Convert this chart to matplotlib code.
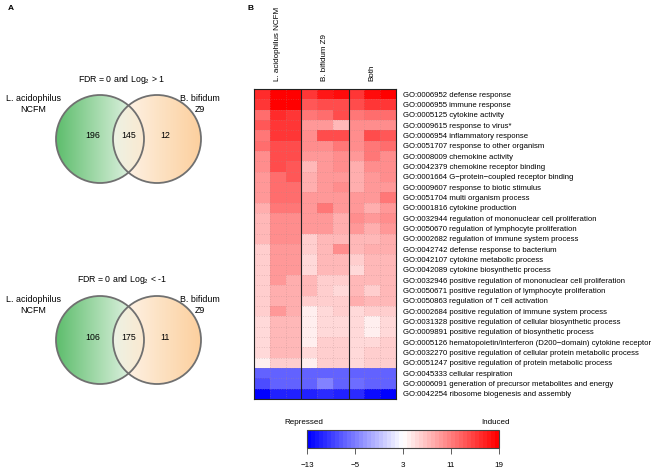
import numpy as np
import matplotlib.pyplot as plt
from matplotlib.colors import LinearSegmentedColormap, Normalize
from matplotlib.patches import Circle

plt.rcParams['font.family'] = ['Liberation Sans', 'DejaVu Sans']
plt.rcParams['mathtext.fontset'] = 'custom'
plt.rcParams['mathtext.rm'] = 'Liberation Sans'

# ---- data ----
venn_titles = ['FDR = 0 and Log$_\\mathregular{2}$ > 1', 'FDR = 0 and Log$_\\mathregular{2}$ < -1']
venn_sets = ['L. acidophilus\nNCFM', 'B. bifidum\nZ9']
up_counts = [196, 145, 12]
down_counts = [106, 175, 11]

groups = ['L. acidophilus NCFM', 'B. bifidum Z9', 'Both']
go_terms = [
    'GO:0006952 defense response',
    'GO:0006955 immune response',
    'GO:0005125 cytokine activity',
    'GO:0009615 response to virus*',
    'GO:0006954 inflammatory response',
    'GO:0051707 response to other organism',
    'GO:0008009 chemokine activity',
    'GO:0042379 chemokine receptor binding',
    'GO:0001664 G\u2212protein\u2212coupled receptor binding',
    'GO:0009607 response to biotic stimulus',
    'GO:0051704 multi organism process',
    'GO:0001816 cytokine production',
    'GO:0032944 regulation of mononuclear cell proliferation',
    'GO:0050670 regulation of lymphocyte proliferation',
    'GO:0002682 regulation of immune system process',
    'GO:0042742 defense response to bacterium',
    'GO:0042107 cytokine metabolic process',
    'GO:0042089 cytokine biosynthetic process',
    'GO:0032946 positive regulation of mononuclear cell proliferation',
    'GO:0050671 positive regulation of lymphocyte proliferation',
    'GO:0050863 regulation of T cell activation',
    'GO:0002684 positive regulation of immune system process',
    'GO:0031328 positive regulation of cellular biosynthetic process',
    'GO:0009891 positive regulation of biosynthetic process',
    'GO:0005126 hematopoietin/interferon (D200\u2212domain) cytokine receptor',
    'GO:0032270 positive regulation of cellular protein metabolic process',
    'GO:0051247 positive regulation of protein metabolic process',
    'GO:0045333 cellular respiration',
    'GO:0006091 generation of precursor metabolites and energy',
    'GO:0042254 ribosome biogenesis and assembly',
]

ncfm = [[16, 19, 19], [15, 19, 19], [12, 16, 15], [13, 15, 15], [11, 15, 15],
        [12, 14, 14], [10, 14, 14], [10, 14, 13], [9, 12, 13], [9, 12, 12],
        [9, 12, 12], [8, 11, 11], [7, 10, 10], [7, 10, 10], [7, 10, 10],
        [6, 9, 9], [6, 9, 9], [6, 9, 9], [6, 9, 8], [6, 8, 8],
        [6, 8, 8], [6, 9, 8], [5, 7, 7], [5, 7, 7], [5, 7, 7],
        [5, 7, 7], [4, 6, 6], [-7, -7, -7], [-8, -7, -7], [-13, -11, -11]]
z9 = [[15, 17, 18], [13, 14, 14], [11, 12, 14], [9, 9, 7], [10, 14, 14],
      [10, 10, 11], [9, 9, 10], [7, 9, 10], [8, 9, 9], [8, 9, 10],
      [9, 9, 9], [9, 11, 9], [9, 9, 8], [9, 9, 8], [6, 7, 7],
      [6, 7, 10], [5, 7, 7], [5, 7, 7], [7, 6, 6], [7, 6, 5],
      [6, 6, 6], [4, 5, 6], [4, 5, 5], [4, 5, 5], [4, 6, 6],
      [5, 6, 6], [4, 6, 6], [-7, -7, -7], [-7, -5, -7], [-11, -10, -11]]
both = [[15, 18, 19], [14, 15, 15], [11, 12, 12], [10, 10, 10], [10, 14, 13],
        [10, 11, 12], [9, 11, 10], [8, 10, 10], [8, 9, 10], [8, 9, 9],
        [9, 9, 11], [9, 8, 9], [10, 9, 10], [9, 8, 9], [7, 7, 8],
        [7, 8, 8], [6, 7, 7], [5, 7, 7], [7, 7, 7], [7, 6, 7],
        [8, 7, 7], [5, 6, 6], [5, 4, 5], [5, 4, 5], [5, 5, 6],
        [5, 6, 6], [5, 6, 6], [-7, -7, -7], [-6, -7, -7], [-10, -12, -13]]

cbar_ticks = [-13, -5, 3, 11, 19]

# ---- figure ----
W, H = 661, 471
fig = plt.figure(figsize=(W / 100, H / 100), dpi=100)

fig.text(8 / W, 1 - 9 / H, 'A', fontsize=6, fontweight='bold', va='center')
fig.text(247 / W, 1 - 9 / H, 'B', fontsize=6, fontweight='bold', va='center')

# Venn panel in pixel coordinates
av = fig.add_axes([0, 0, 240 / W, 1])
av.set_xlim(0, 240)
av.set_ylim(H, 0)
av.axis('off')

green = LinearSegmentedColormap.from_list('g', ['#5dbd6c', '#a9dcb0', '#f4faf4'])
orange = LinearSegmentedColormap.from_list('o', ['#fff8f1', '#fdd9b0', '#fbbd78'])
grad = np.linspace(0, 1, 256).reshape(1, -1)

def venn(cy, title, counts):
    r = 44
    cx1, cx2 = 100, 157
    for cx, cmap, alpha in [(cx1, green, 1.0), (cx2, orange, 0.72)]:
        c = Circle((cx, cy), r, transform=av.transData, facecolor='none')
        av.add_patch(c)
        im = av.imshow(grad, cmap=cmap, extent=[cx - r, cx + r, cy + r, cy - r],
                       aspect='auto', alpha=alpha, zorder=1)
        im.set_clip_path(c)
    for cx in (cx1, cx2):
        av.add_patch(Circle((cx, cy), r, facecolor='none', edgecolor='#707070',
                            lw=1.3, zorder=3))
    av.set_xlim(0, 240)
    av.set_ylim(H, 0)
    av.text(122, cy - 60, title, ha='center', va='center', fontsize=6.3)
    av.text(33, cy - 35, venn_sets[0], ha='center', va='center', fontsize=6.4,
            linespacing=1.25)
    av.text(200, cy - 35, venn_sets[1], ha='center', va='center', fontsize=6.4,
            linespacing=1.25)
    for x, n in zip([93, 129, 165], counts):
        av.text(x, cy - 3, str(n), ha='center', va='center', fontsize=6.3, zorder=4)

venn(139, venn_titles[0], up_counts)
venn(340, venn_titles[1], down_counts)

# Heatmap
vals = np.hstack([np.array(ncfm), np.array(z9), np.array(both)])
nrow, ncol = vals.shape
cmap = LinearSegmentedColormap.from_list('bwr2', ['#0000ff', '#ffffff', '#ff0000'], N=48)
norm = Normalize(vmin=-13, vmax=19)

ah = fig.add_axes([254 / W, 1 - 399 / H, 142 / W, 310 / H])
mesh = ah.pcolormesh(np.arange(ncol + 1), np.arange(nrow + 1), vals, cmap=cmap, norm=norm)
ah.set_xlim(0, ncol)
ah.set_ylim(nrow, 0)
for y in range(1, nrow):
    ah.axhline(y, color='#b08888', lw=0.5, ls=(0, (1, 2.5)), alpha=0.6)
for x in range(1, ncol):
    if x % 3:
        ah.axvline(x, color='#b08888', lw=0.5, ls=(0, (1, 2.5)), alpha=0.6)
    else:
        ah.axvline(x, color='#222222', lw=0.8)
for s in ah.spines.values():
    s.set_color('#222222')
    s.set_linewidth(0.8)

ah.set_yticks(np.arange(nrow) + 0.5)
ah.set_yticklabels(go_terms, fontsize=5.6)
ah.yaxis.tick_right()
ah.tick_params(axis='y', length=0, pad=5)
ah.set_xticks([1.5, 4.5, 7.5])
ah.set_xticklabels(groups, rotation=90, fontsize=5.8)
ah.xaxis.tick_top()
ah.tick_params(axis='x', length=0, pad=6)

# Colorbar
ac = fig.add_axes([307 / W, 1 - 448 / H, 192 / W, 18 / H])
cb = fig.colorbar(mesh, cax=ac, orientation='horizontal', ticks=cbar_ticks)
cb.outline.set_edgecolor('#444444')
cb.outline.set_linewidth(0.8)
ac.tick_params(axis='x', labelsize=5.8, length=4, width=0.6, color='#444444', pad=6)
fig.text(304 / W, 1 - 422 / H, 'Repressed', ha='center', va='center', fontsize=5.8)
fig.text(496 / W, 1 - 422 / H, 'Induced', ha='center', va='center', fontsize=5.8)

fig.savefig('out.png', dpi=100)
